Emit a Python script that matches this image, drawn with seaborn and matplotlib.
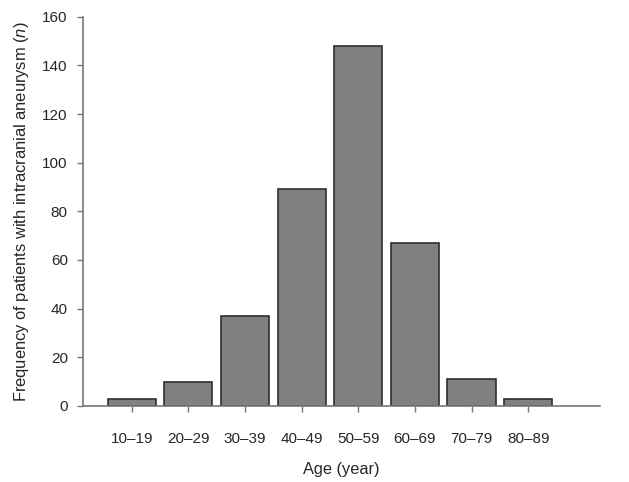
import matplotlib
matplotlib.use("Agg")
import matplotlib.pyplot as plt
import seaborn as sns
import pandas as pd

age_groups = ["10–19", "20–29", "30–39", "40–49", "50–59", "60–69", "70–79", "80–89"]
counts = [3, 10, 37, 89, 148, 67, 11, 3]

sns.set_style("ticks")
plt.rcParams["font.family"] = ["Liberation Sans", "DejaVu Sans"]
plt.rcParams["mathtext.fontset"] = "custom"
plt.rcParams["mathtext.it"] = "Liberation Sans:italic"
plt.rcParams["mathtext.rm"] = "Liberation Sans"

df = pd.DataFrame({"age": age_groups, "n": counts})

fig = plt.figure(figsize=(6.29, 4.82), dpi=100)
ax = fig.add_axes([0.132, 0.158, 0.822, 0.807])

sns.barplot(data=df, x="age", y="n", color="#808080", saturation=1,
            width=0.85, edgecolor="#2f2f2f", linewidth=1.2, ax=ax)

ax.set_ylim(0, 160)
ax.set_xlim(-0.86, 8.27)
ax.set_yticks(range(0, 161, 20))
ax.set_xlabel("Age (year)", fontsize=11.8, labelpad=11)
ax.set_ylabel(r"Frequency of patients with intracranial aneurysm ($\mathit{n}$)",
              fontsize=11.9, labelpad=8)
ax.tick_params(axis="both", color="#777777", length=4, width=1)
ax.tick_params(axis="y", labelsize=11, pad=7)
ax.tick_params(axis="x", labelsize=11, pad=15)

sns.despine(ax=ax)
for side in ["left", "bottom"]:
    ax.spines[side].set_color("#777777")
    ax.spines[side].set_linewidth(1.2)

fig.savefig("out.png", dpi=100)
